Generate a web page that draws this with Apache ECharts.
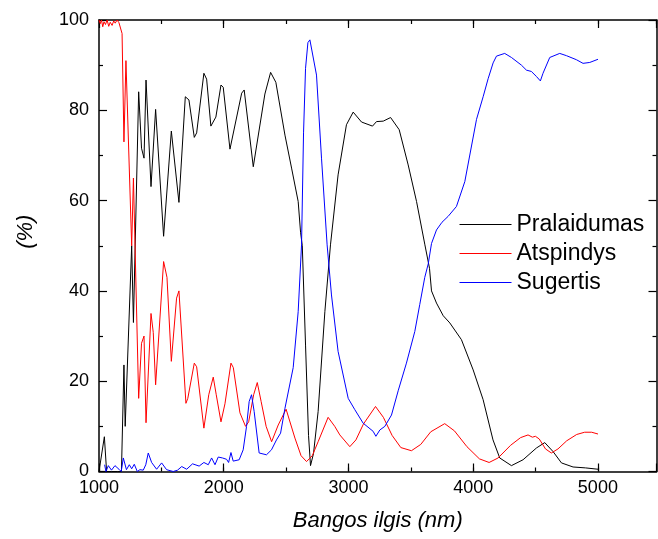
<!DOCTYPE html>
<html>
<head>
<meta charset="utf-8">
<script src="https://cdn.jsdelivr.net/npm/echarts@6/dist/echarts.min.js"></script>
<style>
html,body{margin:0;padding:0;background:#fff;}
#chart{width:658px;height:539px;}
</style>
</head>
<body>
<div id="chart"></div>
<script>
const seriesNames = ['Pralaidumas', 'Atspindys', 'Sugertis'];

const pralaidumasX = [1000,1008,1043,1061,1100,1150,1180,1200,1210,1262,1276,1318,1341,1361,1377,1417,1454,1518,1580,1641,1692,1721,1764,1783,1841,1863,1897,1937,1978,1996,2050,2144,2164,2237,2330,2376,2418,2491,2544,2597,2616,2630,2656,2680,2696,2720,2757,2811,2856,2917,2984,3038,3051,3105,3193,3225,3279,3338,3407,3479,3546,3613,3650,3666,3706,3760,3813,3906,4000,4080,4159,4213,4307,4400,4507,4574,4641,4708,4801,4900,5001];
const pralaidumasY = [0,0,7.7,0,0,0,0,23.6,10,50,33,84.1,71.6,69.4,86.7,63.1,80.2,52.1,75.4,59.6,83,82.3,74,75,88.2,86.9,76.5,78.5,85.6,85.1,71.4,83.8,84.5,67.5,83.6,88.4,86.2,74.5,67.2,59.8,53,50,28,8,1.3,4,13.3,35.4,50.2,65.7,76.8,79.6,79.6,77.4,76.5,77.5,77.6,78.4,75.7,67.9,59.8,50.2,45,40,37.3,34.5,32.9,29.2,22.5,15.9,7,3,1.3,2.6,5.2,6.4,4.4,1.9,1.0,0.8,0.5];

const atspindysX = [1000,1010,1020,1030,1040,1052,1065,1078,1090,1105,1118,1130,1145,1160,1175,1185,1200,1216,1262,1276,1318,1341,1361,1377,1417,1435,1454,1518,1545,1580,1622,1641,1697,1712,1764,1783,1841,1880,1916,1940,1978,2010,2058,2077,2130,2175,2200,2240,2269,2300,2340,2384,2437,2500,2571,2620,2664,2710,2757,2837,2890,2931,3011,3060,3120,3217,3280,3350,3420,3505,3580,3660,3772,3850,3950,4050,4128,4200,4300,4380,4440,4475,4499,4530,4580,4627,4680,4750,4830,4894,4950,5001];
const atspindysY = [100,99.2,100,98.5,99.6,99,100,98.6,99.5,98.8,99.8,99.3,100,99.4,99,97,73,91,50,65,16.2,28.4,30,10.8,35,30.8,19.2,46.5,43,24.4,38.4,40,15.1,16.2,24,23.2,9.6,17,20.9,17,11,15,24,23,13,10,11,17,19.7,15.5,10,6.6,10.3,13.8,7.4,3.5,2.2,3.5,6.6,12,10,8.1,5.5,7,10.5,14.4,12,8,5.3,4.6,6,8.8,10.6,9,5.5,2.8,2.0,3,5.8,7.5,8.1,7.6,7.8,7.2,5,4.1,5,6.8,8.2,8.7,8.7,8.3];

const sugertisX = [1045,1056,1075,1100,1128,1160,1178,1195,1220,1243,1262,1283,1307,1328,1355,1375,1395,1422,1462,1502,1542,1595,1630,1663,1703,1750,1803,1841,1876,1903,1930,1956,1990,2023,2039,2058,2076,2124,2156,2183,2204,2223,2244,2284,2343,2383,2423,2456,2491,2557,2597,2624,2640,2656,2675,2691,2704,2744,2784,2829,2864,2917,2998,3051,3118,3198,3220,3252,3292,3345,3400,3465,3532,3572,3612,3640,3666,3706,3750,3799,3866,3933,4027,4080,4120,4160,4187,4253,4307,4387,4427,4467,4507,4539,4560,4614,4694,4748,4828,4881,4935,5001];
const sugertisY = [1.5,0,1.3,0.3,1.3,0.5,0,3,0.4,1.5,0.6,1.6,0,0.4,0.3,1.5,4.1,2,0.5,1.9,0.4,0,0.3,1.1,0.5,1.7,1.2,2,1.5,3,1.5,3.2,3,2.7,2,4.2,2.3,2.6,4.8,10,15.5,17,13.3,4.1,3.7,4.8,7,8.5,14,23,35.4,50.2,75,89.3,95,95.6,95.4,87.8,69.4,50.2,39.1,26.6,16.2,13.7,10.7,8.9,7.8,9.2,10,12.5,18,24,31,37,43,46,50.5,53.5,55.2,56.5,58.7,64.2,78,83,87,90.5,92,92.6,91.7,90,88.9,88.6,87.5,86.5,88.2,91.7,92.6,92.1,91.2,90.4,90.6,91.3];

const xTickLabels = [1000, 2000, 3000, 4000, 5000];
const yTickLabels = [0, 20, 40, 60, 80, 100];

const colors = ['#000000', '#ff0000', '#0000ff'];
const FONT = '"Liberation Sans", Arial, Helvetica, sans-serif';

function zip(xs, ys) { return xs.map((x, i) => [x, ys[i]]); }

const X_MIN = 1000, X_MAX = 5470;
const axisLineStyle = { color: '#000', width: 1.5 };

function xAx(pos, interval, len, showLine, showLabel, extra) {
  return Object.assign({
    type: 'value', position: pos, min: X_MIN, max: X_MAX, interval: interval,
    axisLine: { show: showLine, onZero: false, lineStyle: axisLineStyle },
    axisTick: { show: true, inside: true, length: len, lineStyle: { color: '#000', width: 1.2 } },
    axisLabel: { show: showLabel },
    splitLine: { show: false }
  }, extra || {});
}

const chart = echarts.init(document.getElementById('chart'), null, { renderer: 'canvas' });
chart.setOption({
  animation: false,
  backgroundColor: '#fff',
  textStyle: { fontFamily: FONT },
  grid: { left: 99, right: 1.5, top: 20, bottom: 67.5, containLabel: false },
  legend: {
    orient: 'vertical', left: 454, top: 208,
    data: seriesNames,
    itemWidth: 52, itemHeight: 14, itemGap: 6,
    itemStyle: { opacity: 0 },
    lineStyle: { width: 1 },
    textStyle: { fontSize: 23, color: '#000', fontFamily: FONT }
  },
  xAxis: [
    xAx('bottom', 500, 4, true, true, {
      axisLabel: {
        show: true, fontSize: 18, color: '#000', fontFamily: FONT, margin: 8,
        showMaxLabel: false,
        formatter: v => xTickLabels.indexOf(v) >= 0 ? String(v) : ''
      },
      name: 'Bangos ilgis (nm)', nameLocation: 'middle', nameGap: 38,
      nameTextStyle: { fontSize: 22, fontStyle: 'italic', color: '#000', fontFamily: FONT }
    }),
    xAx('bottom', 1000, 8, false, false),
    xAx('top', 500, 4, true, false),
    xAx('top', 1000, 8, false, false)
  ],
  yAxis: [
    {
      type: 'value', position: 'left', min: 0, max: 100, interval: 20,
      axisLine: { show: true, onZero: false, lineStyle: axisLineStyle },
      axisTick: { show: true, inside: true, length: 8, lineStyle: { color: '#000', width: 1.2 } },
      minorTick: { show: true, splitNumber: 2, length: 4, lineStyle: { color: '#000', width: 1.2 } },
      axisLabel: { fontSize: 18, color: '#000', fontFamily: FONT, margin: 10,
        formatter: v => yTickLabels.indexOf(v) >= 0 ? String(v) : '' },
      splitLine: { show: false },
      name: '(%)', nameLocation: 'middle', nameGap: 62,
      nameTextStyle: { fontSize: 22, fontStyle: 'italic', color: '#000', fontFamily: FONT, padding: [0, 0, 0, 28] }
    },
    {
      type: 'value', position: 'right', min: 0, max: 100, interval: 20,
      axisLine: { show: true, onZero: false, lineStyle: axisLineStyle },
      axisTick: { show: true, inside: true, length: 8, lineStyle: { color: '#000', width: 1.2 } },
      minorTick: { show: true, splitNumber: 2, length: 4, lineStyle: { color: '#000', width: 1.2 } },
      axisLabel: { show: false },
      splitLine: { show: false }
    }
  ],
  series: [
    { name: seriesNames[0], data: zip(pralaidumasX, pralaidumasY) },
    { name: seriesNames[1], data: zip(atspindysX, atspindysY) },
    { name: seriesNames[2], data: zip(sugertisX, sugertisY) }
  ].map((s, i) => Object.assign(s, {
    type: 'line', xAxisIndex: 0, yAxisIndex: 0, symbol: 'none', showSymbol: false,
    smooth: false, color: colors[i],
    lineStyle: { color: colors[i], width: 1 },
    itemStyle: { color: colors[i] }
  }))
});
</script>
</body>
</html>
